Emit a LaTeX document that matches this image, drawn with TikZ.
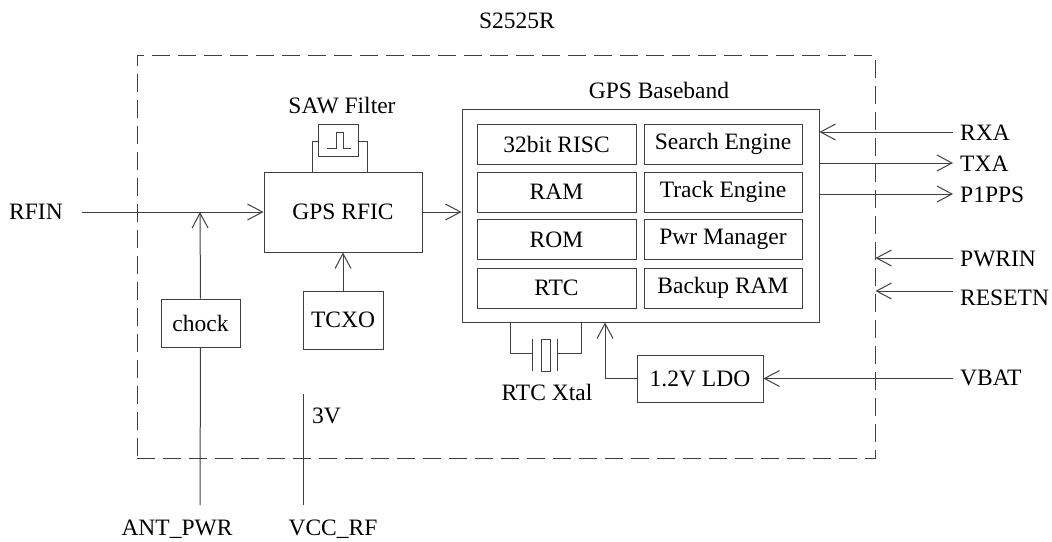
\documentclass[tikz,border=0pt]{standalone}
\usepackage{fontspec}
\setmainfont{Liberation Serif}
\usetikzlibrary{shapes}
\usetikzlibrary{arrows.meta}
\usetikzlibrary{positioning}

\tikzset{
  box/.style={draw=black!75, line width=1pt, inner sep=0pt},
  wire/.style={draw=black!75, line width=1pt},
  arr/.style={wire, -{Straight Barb[length=15pt,width=16pt]}},
  lbl/.style={inner sep=0pt, anchor=base},
}

\begin{document}
\begin{tikzpicture}[x=1pt,y=-1pt,font=\fontsize{23.5}{26}\selectfont]
\useasboundingbox (0,0) rectangle (1052,541);

% module outline
\node[box, dash pattern=on 18pt off 8pt, minimum width=738pt, minimum height=403pt] (chip) at (506,256.5) {};
\node[lbl] (title) at (517,28) {S2525R};

% RF part
\node[box, minimum width=158pt, minimum height=80pt] (rfic) at (343,212) {GPS RFIC};
\node[box, minimum width=40pt, minimum height=32pt] (saw) at (338,140) {};
\node[lbl] (sawlbl) at (342,113) {SAW Filter};
\node[box, minimum width=79pt, minimum height=48pt] (chock) at (200.5,323) {chock};
\node[box, minimum width=80pt, minimum height=58pt] (tcxo) at (343,320) {TCXO};

% baseband
\node[box, minimum width=357pt, minimum height=213pt] (bb) at (640.5,215.5) {};
\node[lbl] (bblbl) at (659,98) {GPS Baseband};
\node[box, minimum width=159pt, minimum height=40pt] (risc) at (556.5,144) {32bit RISC};
\node[box, minimum width=159pt, minimum height=40pt] (ram) at (556.5,192) {RAM};
\node[box, minimum width=159pt, minimum height=40pt] (rom) at (556.5,239.5) {ROM};
\node[box, minimum width=159pt, minimum height=40pt] (rtc) at (556.5,288) {RTC};
\node[box, minimum width=158pt, minimum height=40pt] (search) at (723,144) {Search Engine};
\node[box, minimum width=158pt, minimum height=40pt] (track) at (723,192) {Track Engine};
\node[box, minimum width=158pt, minimum height=40pt] (pwr) at (723,239.5) {Pwr Manager};
\node[box, minimum width=158pt, minimum height=40pt] (bkram) at (723,288) {Backup RAM};
\node[box, minimum width=126pt, minimum height=47pt] (ldo) at (700,378.5) {1.2V LDO};
\node[box, minimum width=9pt, minimum height=32pt] (xtal) at (545.5,355) {};
\node[lbl] (xtallbl) at (547,400) {RTC Xtal};

% pins
\node[lbl] (rfin) at (36,219) {RFIN};
\node[lbl] (antpwr) at (177,535) {ANT\_PWR};
\node[lbl] (vccrf) at (333,535) {VCC\_RF};
\node[lbl, anchor=base west] (v3) at (312,423) {3V};
\node[lbl, anchor=base west] (rxa) at (960,140) {RXA};
\node[lbl, anchor=base west] (txa) at (960,171) {TXA};
\node[lbl, anchor=base west] (pps) at (960,202) {P1PPS};
\node[lbl, anchor=base west] (pwrin) at (960,266) {PWRIN};
\node[lbl, anchor=base west] (resetn) at (960,305) {RESETN};
\node[lbl, anchor=base west] (vbat) at (960,385) {VBAT};

\coordinate (rfin0) at (82,212);
\coordinate (jn) at (200,212);
\coordinate (antend) at (200,505);
\coordinate (vcctop) at (303,394);
\coordinate (vccend) at (303,505);
\coordinate (rxa0) at (953,132);
\coordinate (txa0) at (953,163);
\coordinate (pps0) at (953,194);
\coordinate (pwrin0) at (953,258);
\coordinate (resetn0) at (953,291);
\coordinate (vbat0) at (953,378.5);
\coordinate (ldoup) at (605,378.5);

% connectors
\draw[arr] (rfin0) -- (rfic.west);
\draw[arr] (chock.north) -- (jn);
\draw[wire] (chock.south) -- (antend);
\draw[wire] (vcctop) -- (vccend);
\draw[arr] (tcxo.north) -- (rfic.south);
\draw[arr] (rfic.east) -- (bb.west |- rfic.east);
\draw[wire] (312,172) -- (312,141) -- (saw.west |- 0,141);
\draw[wire] (367,172) -- (367,141) -- (saw.east |- 0,141);
\draw[wire] (327,148) -- (336,148) -- (336,132) -- (343,132) -- (343,148) -- (351,148);
\draw[arr] (rxa0) -- (bb.east |- rxa0);
\draw[arr] (bb.east |- txa0) -- (txa0);
\draw[arr] (bb.east |- pps0) -- (pps0);
\draw[arr] (pwrin0) -- (chip.east |- pwrin0);
\draw[arr] (resetn0) -- (chip.east |- resetn0);
\draw[arr] (vbat0) -- (ldo.east);
\draw[arr] (ldo.west) -- (ldoup) -- (ldoup |- bb.south);

% crystal
\draw[wire] (510,322) -- (510,353) -- (532,353);
\draw[wire] (581,322) -- (581,353) -- (557,353);
\draw[wire] (532,339) -- (532,371);
\draw[wire] (557,339) -- (557,371);
\end{tikzpicture}
\end{document}
